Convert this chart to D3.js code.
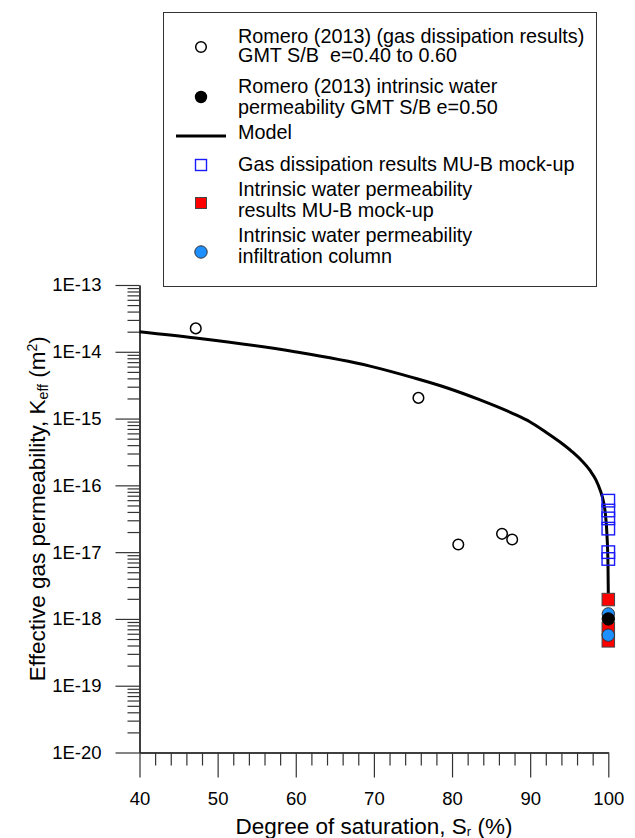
<!DOCTYPE html>
<html>
<head>
<meta charset="utf-8">
<script src="https://cdn.jsdelivr.net/npm/d3@7"></script>
<style>
  html, body { margin: 0; padding: 0; background: #fff; }
  svg { display: block; font-family: "Liberation Sans", Arial, Helvetica, sans-serif; }
  text { white-space: pre; }
</style>
</head>
<body>
<svg id="chart" width="635" height="838"></svg>
<script>
// Romero (2013) gas dissipation results, GMT S/B e=0.40 to 0.60
const romeroGasSr = [47.2, 75.7, 80.8, 86.4, 87.7];
const romeroGasK  = [2.24e-14, 2.04e-15, 1.30e-17, 1.88e-17, 1.55e-17];

// Romero (2013) intrinsic water permeability GMT S/B e=0.50
const romeroWaterSr = [100];
const romeroWaterK  = [1.0e-18];

// Model curve
const modelSr = [40, 47.2, 59.7, 69.5, 75.0, 79.4, 83.6, 87.8, 90.0, 91.9, 93.82, 95.35, 96.63, 97.66, 98.43, 99.0, 99.39, 99.64, 99.83, 99.96, 100];
const modelK  = [2.0e-14, 1.61e-14, 1.01e-14, 6.1e-15, 4.1e-15, 2.87e-15, 1.9e-15, 1.19e-15, 8.9e-16, 6.4e-16, 4.46e-16, 3.21e-16, 2.32e-16, 1.67e-16, 1.2e-16, 8.23e-17, 5.63e-17, 3.6e-17, 1.81e-17, 6.42e-18, 2.44e-18];

// MU-B mock-up: gas dissipation results
const mubGasSr = [100, 100, 100, 100, 100, 100];
const mubGasK  = [5.9e-17, 4.2e-17, 3.2e-17, 2.25e-17, 1.0e-17, 7.9e-18];

// MU-B mock-up: intrinsic water permeability results
const mubWaterSr = [100, 100, 100];
const mubWaterK  = [1.95e-18, 7.2e-19, 4.7e-19];

// Infiltration column: intrinsic water permeability
const columnSr = [100, 100];
const columnK  = [1.19e-18, 5.7e-19];

// Axis ticks
const xMajorTicks = [40, 50, 60, 70, 80, 90, 100];
const yMajorTicks = [1e-20, 1e-19, 1e-18, 1e-17, 1e-16, 1e-15, 1e-14, 1e-13];

const legendLabels = [
  ["Romero (2013) (gas dissipation results)", "GMT S/B  e=0.40 to 0.60"],
  ["Romero (2013) intrinsic water", "permeability GMT S/B e=0.50"],
  ["Model"],
  ["Gas dissipation results MU-B mock-up"],
  ["Intrinsic water permeability", "results MU-B mock-up"],
  ["Intrinsic water permeability", "infiltration column"]
];

const svg = d3.select("#chart");
const axisColor = "#333";

const x = d3.scaleLinear().domain([40, 100]).range([139.5, 608.3]);
const y = d3.scaleLog().domain([1e-20, 1e-13]).range([752.5, 285]);

// ---- Axes ----
const xMinor = d3.range(40, 100.001, 2).filter(v => v % 10 !== 0);
const xAxisMinor = d3.axisBottom(x).tickValues(xMinor).tickSize(13).tickSizeOuter(0).tickFormat("");
const xAxisMajor = d3.axisBottom(x).tickValues(xMajorTicks).tickSize(25).tickSizeOuter(0).tickPadding(0).tickFormat(d3.format("d"));

const gxMinor = svg.append("g").attr("transform", `translate(0,${y(1e-20)})`).call(xAxisMinor);
const gx = svg.append("g").attr("transform", `translate(0,${y(1e-20)})`).call(xAxisMajor);

const yMinor = y.ticks().filter(v => {
  const m = v / Math.pow(10, Math.floor(Math.log10(v) + 1e-9));
  return Math.abs(m - 1) > 1e-6;
});
const yAxisMinor = d3.axisLeft(y).tickValues(yMinor).tickSize(12).tickSizeOuter(0).tickFormat("");
const yAxisMajor = d3.axisLeft(y).tickValues(yMajorTicks).tickSize(24).tickSizeOuter(0).tickPadding(14)
  .tickFormat(d => "1E" + Math.round(Math.log10(d)));

const gyMinor = svg.append("g").attr("transform", `translate(${x(40)},0)`).call(yAxisMinor);
const gy = svg.append("g").attr("transform", `translate(${x(40)},0)`).call(yAxisMajor);

[gxMinor, gx, gyMinor, gy].forEach(g => {
  g.selectAll("path.domain").attr("stroke", axisColor).attr("stroke-width", 1.5);
  g.selectAll(".tick line").attr("stroke", axisColor).attr("stroke-width", 1.2);
});
gx.selectAll(".tick text").attr("font-size", 18.5).attr("fill", "#000")
  .attr("dy", null).attr("y", 52).attr("font-family", "Liberation Sans, Arial, sans-serif");
gy.selectAll(".tick text").attr("font-size", 18.5).attr("fill", "#000")
  .attr("font-family", "Liberation Sans, Arial, sans-serif");

// ---- Axis titles ----
const xTitle = svg.append("text")
  .attr("x", (x(40) + x(100)) / 2).attr("y", 833.5)
  .attr("text-anchor", "middle").attr("font-size", 22.5);
xTitle.append("tspan").text("Degree of saturation, S");
xTitle.append("tspan").attr("font-size", 13).attr("dy", 2).text("r");
xTitle.append("tspan").attr("dy", -2).text(" (%)");

const yTitle = svg.append("text")
  .attr("transform", `translate(45,${(y(1e-13) + y(1e-20)) / 2 - 10}) rotate(-90)`)
  .attr("text-anchor", "middle").attr("font-size", 22.5);
yTitle.append("tspan").text("Effective gas permeability, K");
yTitle.append("tspan").attr("font-size", 14).attr("dy", 3).text("eff");
yTitle.append("tspan").attr("dy", -3).text(" (m");
yTitle.append("tspan").attr("font-size", 14).attr("dy", -8).text("2");
yTitle.append("tspan").attr("dy", 8).text(")");

// ---- Model curve ----
const modelPts = modelSr.map((s, i) => [s, modelK[i]]);
svg.append("path")
  .datum(modelPts)
  .attr("fill", "none").attr("stroke", "#000").attr("stroke-width", 3)
  .attr("d", d3.line().x(d => x(d[0])).y(d => y(d[1])).curve(d3.curveMonotoneX));

// ---- Markers ----
const zip = (a, b) => a.map((v, i) => [v, b[i]]);
const sq = 12.5;

svg.append("g").selectAll("rect").data(zip(mubGasSr, mubGasK)).join("rect")
  .attr("x", d => x(d[0]) - sq / 2).attr("y", d => y(d[1]) - sq / 2)
  .attr("width", sq).attr("height", sq)
  .attr("fill", "none").attr("stroke", "#1a1aff").attr("stroke-width", 1.4);

svg.append("g").selectAll("rect").data(zip(mubWaterSr, mubWaterK)).join("rect")
  .attr("x", d => x(d[0]) - sq / 2).attr("y", d => y(d[1]) - sq / 2)
  .attr("width", sq).attr("height", sq)
  .attr("fill", "#ff0000").attr("stroke", "#444").attr("stroke-width", 1);

svg.append("g").selectAll("circle").data(zip(columnSr, columnK)).join("circle")
  .attr("cx", d => x(d[0])).attr("cy", d => y(d[1])).attr("r", 6.2)
  .attr("fill", "#1e8fff").attr("stroke", "#333").attr("stroke-width", 1);

svg.append("g").selectAll("circle").data(zip(romeroWaterSr, romeroWaterK)).join("circle")
  .attr("cx", d => x(d[0])).attr("cy", d => y(d[1])).attr("r", 6.2)
  .attr("fill", "#000").attr("stroke", "#000").attr("stroke-width", 1);

svg.append("g").selectAll("circle").data(zip(romeroGasSr, romeroGasK)).join("circle")
  .attr("cx", d => x(d[0])).attr("cy", d => y(d[1])).attr("r", 5.3)
  .attr("fill", "#fff").attr("stroke", "#000").attr("stroke-width", 1.5);

// ---- Legend ----
const lg = svg.append("g");
lg.append("rect").attr("x", 163.5).attr("y", 12.5).attr("width", 433).attr("height", 274)
  .attr("fill", "#fff").attr("stroke", "#333").attr("stroke-width", 1);

const textX = 238;
const mx = 201;
const baselines = [[42.7, 61.7], [93.3, 114.3], [139], [170.7], [196, 216.7], [241.7, 263]];
legendLabels.forEach((lines, i) => {
  lines.forEach((t, j) => {
    lg.append("text").attr("x", textX).attr("y", baselines[i][j])
      .attr("font-size", 19.8).attr("fill", "#000").text(t);
  });
});

lg.append("circle").attr("cx", mx).attr("cy", 47).attr("r", 5.3)
  .attr("fill", "#fff").attr("stroke", "#000").attr("stroke-width", 1.5);
lg.append("circle").attr("cx", mx).attr("cy", 97).attr("r", 6.2).attr("fill", "#000");
lg.append("line").attr("x1", 176).attr("x2", 226).attr("y1", 136).attr("y2", 136)
  .attr("stroke", "#000").attr("stroke-width", 3);
lg.append("rect").attr("x", mx - 5.5).attr("y", 165 - 5.5).attr("width", 11).attr("height", 11)
  .attr("fill", "none").attr("stroke", "#1a1aff").attr("stroke-width", 1.4);
lg.append("rect").attr("x", mx - 5.5).attr("y", 203 - 5.5).attr("width", 11).attr("height", 11)
  .attr("fill", "#ff0000").attr("stroke", "#444").attr("stroke-width", 1);
lg.append("circle").attr("cx", mx).attr("cy", 252).attr("r", 6.2)
  .attr("fill", "#1e8fff").attr("stroke", "#333").attr("stroke-width", 1);
</script>
</body>
</html>
